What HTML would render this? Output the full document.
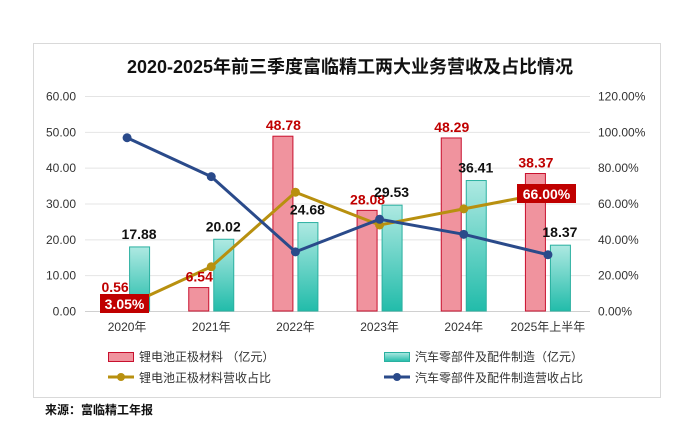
<!DOCTYPE html>
<html><head><meta charset="utf-8"><style>
html,body{margin:0;padding:0;background:#fff;}
svg{display:block;font-family:"Liberation Sans","Noto Sans CJK SC",sans-serif;}
</style></head><body>
<svg id="chart" width="700" height="439" viewBox="0 0 700 439">
<defs>
<linearGradient id="tg" x1="0" y1="0" x2="0" y2="1"><stop offset="0" stop-color="#aee9e2"/><stop offset="1" stop-color="#22bcaa"/></linearGradient>
<linearGradient id="tgl" x1="0" y1="0" x2="0" y2="1"><stop offset="0" stop-color="#aee9e2"/><stop offset="1" stop-color="#22bcaa"/></linearGradient>
</defs>
<rect x="33.5" y="43.5" width="627" height="354" fill="#fff" stroke="#d9d9d9"/>
<text x="350" y="73" text-anchor="middle" font-size="18" font-weight="bold" fill="#111">2020-2025年前三季度富临精工两大业务营收及占比情况</text>
<g id="grid"></g><g id="bars"></g><g id="lines"></g><g id="labels"></g>
<g font-size="12" fill="#333">
<rect x="108.5" y="352.5" width="25" height="9" fill="#f0939e" stroke="#c8102e"/>
<text x="139" y="361">锂电池正极材料  （亿元）</text>
<rect x="384.5" y="352.5" width="25" height="9" fill="url(#tgl)" stroke="#2ab0a0"/>
<text x="415" y="361">汽车零部件及配件制造（亿元）</text>
<line x1="108" y1="377" x2="134" y2="377" stroke="#b8900f" stroke-width="3"/><circle cx="121" cy="377" r="4" fill="#b8900f"/>
<text x="139" y="382">锂电池正极材料营收占比</text>
<line x1="384" y1="377" x2="410" y2="377" stroke="#2a4a8a" stroke-width="3"/><circle cx="397" cy="377" r="4" fill="#2a4a8a"/>
<text x="415" y="382">汽车零部件及配件制造营收占比</text>
</g>
<text x="45" y="414" font-size="12" font-weight="bold" fill="#111">来源：富临精工年报</text>
</svg>
<script>
const categories=["2020年","2021年","2022年","2023年","2024年","2025年上半年"];
const batteryRevenue=[0.56,6.54,48.78,28.08,48.29,38.37];
const autoRevenue=[17.88,20.02,24.68,29.53,36.41,18.37];
const batteryShare=[3.05,24.7,66.3,48.0,57.0,66.0];
const autoShare=[96.7,75.0,33.0,51.2,42.8,31.4];
const leftTicks=[0,10,20,30,40,50,60];
const rightTicks=[0,20,40,60,80,100,120];

const NS="http://www.w3.org/2000/svg";
const X0=85,X1=590,Y0=311,Y1=96;
const band=(X1-X0)/categories.length;
const xc=i=>X0+band*(i+0.5);
const yL=v=>Y0-(v/60)*(Y0-Y1);
const yR=v=>Y0-(v/120)*(Y0-Y1);
function mk(tag,attrs,parent,txt){const e=document.createElementNS(NS,tag);for(const k in attrs)e.setAttribute(k,attrs[k]);if(txt!==undefined)e.textContent=txt;parent.appendChild(e);return e;}
const grid=document.getElementById('grid'),bars=document.getElementById('bars'),lines=document.getElementById('lines'),labels=document.getElementById('labels');

leftTicks.forEach(t=>{
  const l=mk('line',{x1:X0,x2:X1,y1:yL(t)+0.5,y2:yL(t)+0.5,stroke:t===0?'#d0d0d0':'#e4e4e4'},grid);
  
  
  const tx=mk('text',{x:76,y:yL(t)+4.5,'text-anchor':'end','font-size':12,fill:'#333'},grid,t.toFixed(2));
  
  
});
rightTicks.forEach(t=>{
  const tx=mk('text',{x:598,y:yR(t)+4.5,'font-size':12,fill:'#333'},grid,t.toFixed(2)+'%');
  
  
});
categories.forEach((c,i)=>{
  const tx=mk('text',{x:xc(i),y:331,'text-anchor':'middle','font-size':12,fill:'#333'},grid,c);
  
  
});

categories.forEach((c,i)=>{
  const cx=xc(i);
  const b=mk('rect',{x:cx-22.5,y:yL(batteryRevenue[i]),width:20,height:Y0-yL(batteryRevenue[i]),fill:'#f0939e',stroke:'#c8102e','stroke-width':1},bars);
  
  
  const a=mk('rect',{x:cx+2.5,y:yL(autoRevenue[i]),width:20,height:Y0-yL(autoRevenue[i]),fill:'url(#tg)',stroke:'#2ab0a0','stroke-width':1},bars);
  
  
});

function series(vals,color,name){
  const pts=vals.map((v,i)=>xc(i)+','+yR(v)).join(' ');
  const p=mk('polyline',{points:pts,fill:'none',stroke:color,'stroke-width':3,'stroke-linejoin':'round'},lines);
  
  
  vals.forEach((v,i)=>{
    const c=mk('circle',{cx:xc(i),cy:yR(v),r:4.5,fill:color},lines);
    
    
  });
}
series(batteryShare,'#b8900f','battery-share');
series(autoShare,'#2a4a8a','auto-share');

categories.forEach((c,i)=>{
  const cx=xc(i);
  const r=mk('text',{x:cx-12,y:yL(batteryRevenue[i])-6,'text-anchor':'middle','font-size':14,'font-weight':'bold',fill:'#c00000'},labels,batteryRevenue[i].toFixed(2));
  
  
  if(i===0){r.setAttribute('y',292);}
  const k=mk('text',{x:cx+12,y:yL(autoRevenue[i])-8,'text-anchor':'middle','font-size':14,'font-weight':'bold',fill:'#111'},labels,autoRevenue[i].toFixed(2));
  
  
});
function pctBox(i,bx,by,w){
  const g=mk('g',{},labels);
  
  
  mk('rect',{x:bx,y:by,width:w,height:19,fill:'#c00000'},g);
  mk('text',{x:bx+w/2,y:by+15,'text-anchor':'middle','font-size':14,'font-weight':'bold',fill:'#fff'},g,batteryShare[i].toFixed(2)+'%');
}
pctBox(0,100,294,49);
pctBox(5,517,184,59);
</script>
</body></html>
